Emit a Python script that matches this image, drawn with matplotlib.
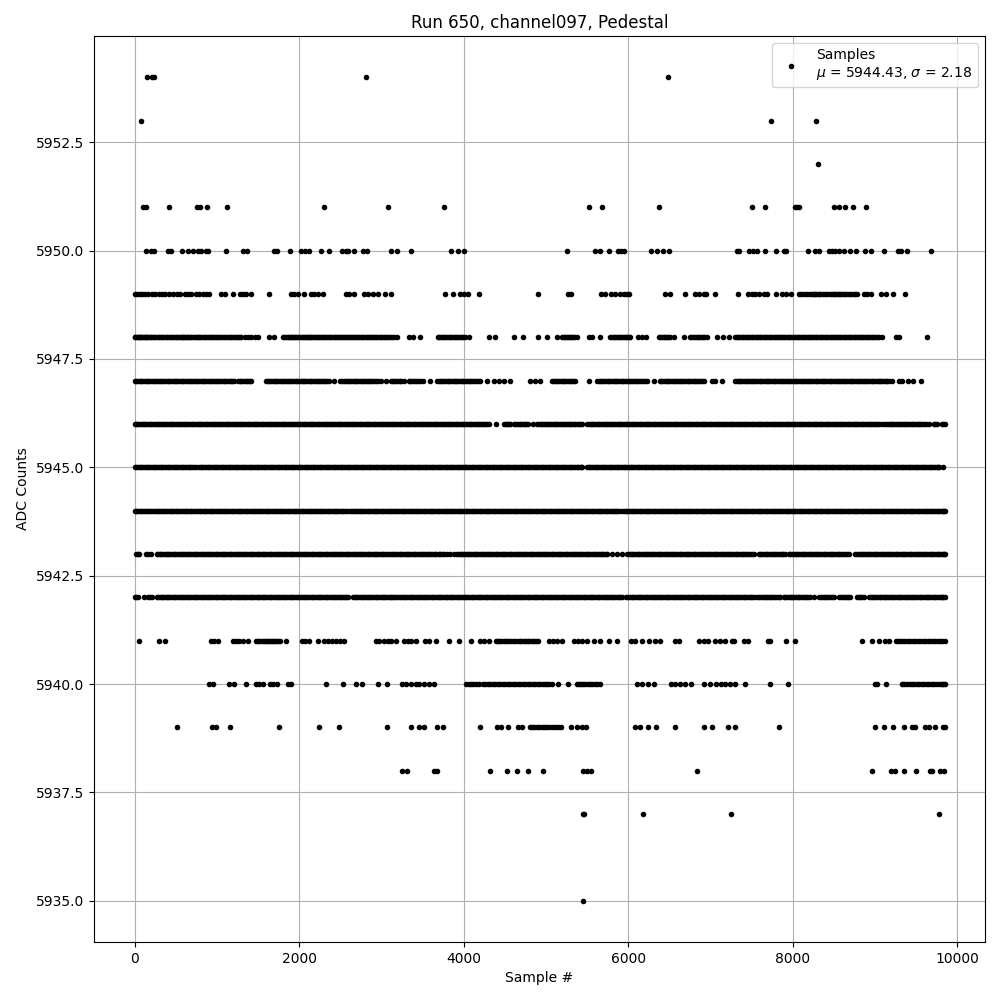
import numpy as np
import matplotlib
matplotlib.use("Agg")
import matplotlib.pyplot as plt

# sample numbers, one list per ADC level
samples_5935 = [5455]
samples_5937 = [5452, 5462, 6185, 7254, 9781]
samples_5938 = [3256, 3309, 3645, 3677, 4317, 4524, 4645, 4779, 4970, 5452, 5500, 5549, 6833, 8959,
                9198, 9246, 9348, 9493, 9663, 9692, 9785, 9841]
samples_5939 = [514, 936, 992, 1158, 1754, 2240, 2483, 3066, 3357, 3463, 3515, 3673, 3746, 4196, 4402,
                4455, 4536, 4657, 4710, 4811, 4835, 4860, 4890, 4921, 4950, 4973, 5000, 5034, 5075,
                5115, 5150, 5188, 5306, 5379, 5439, 5488, 6079, 6148, 6241, 6338, 6565, 6918, 7015,
                7209, 7294, 7829, 8995, 9105, 9214, 9348, 9449, 9489, 9611, 9659, 9733, 9822, 9845]
samples_5940 = [903, 952, 1154, 1207, 1357, 1478, 1519, 1559, 1648, 1681, 1733, 1863, 1903, 2329, 2531,
                2697, 2762, 2961, 3070, 3248, 3301, 3362, 3422, 3463, 3524, 3584, 3645, 4034, 4060,
                4090, 4120, 4151, 4190, 4232, 4262, 4293, 4325, 4354, 4385, 4414, 4445, 4475, 4505,
                4536, 4565, 4597, 4627, 4657, 4688, 4718, 4750, 4779, 4810, 4840, 4870, 4905, 4930,
                4961, 4985, 5014, 5040, 5075, 5148, 5265, 5379, 5405, 5431, 5455, 5480, 5510, 5541,
                5565, 5593, 5625, 5662, 6108, 6168, 6241, 6310, 6525, 6573, 6634, 6695, 6760, 6918,
                6991, 7064, 7132, 7181, 7242, 7302, 7416, 7720, 7938, 9005, 9020, 9129, 9327, 9355,
                9388, 9420, 9449, 9480, 9510, 9540, 9570, 9600, 9631, 9660, 9692, 9722, 9753, 9785,
                9813, 9830, 9845]
samples_5941 = [57, 296, 365, 931, 964, 1012, 1195, 1235, 1276, 1316, 1385, 1478, 1500, 1519, 1550, 1580,
                1600, 1620, 1640, 1660, 1680, 1701, 1720, 1741, 1770, 1839, 2033, 2078, 2126, 2232,
                2300, 2349, 2398, 2450, 2503, 2552, 2936, 2977, 3038, 3078, 3119, 3180, 3281, 3321,
                3362, 3422, 3532, 3584, 3665, 3819, 3941, 4086, 4204, 4252, 4313, 4394, 4415, 4435,
                4460, 4487, 4510, 4536, 4565, 4597, 4625, 4657, 4680, 4698, 4730, 4759, 4780, 4799,
                4830, 4860, 4880, 4900, 5034, 5083, 5136, 5196, 5338, 5391, 5439, 5500, 5581, 5654,
                5771, 5865, 6035, 6079, 6168, 6249, 6330, 6391, 6565, 6622, 6857, 6918, 6970, 7059,
                7120, 7173, 7262, 7290, 7404, 7456, 7695, 7720, 7918, 8027, 8837, 8963, 9044, 9117,
                9174, 9255, 9280, 9307, 9335, 9368, 9400, 9429, 9460, 9489, 9520, 9550, 9580, 9611,
                9640, 9672, 9700, 9733, 9765, 9793, 9820, 9845]
samples_5942 = [0, 40, 113, 162, 210, 271, 310, 350, 390, 435, 475, 520, 560, 600, 645, 685, 730, 775,
                815, 860, 900, 945, 985, 1030, 1070, 1115, 1155, 1200, 1240, 1285, 1325, 1370, 1410,
                1455, 1495, 1540, 1580, 1625, 1665, 1710, 1750, 1795, 1835, 1880, 1920, 1965, 2005,
                2050, 2090, 2135, 2175, 2220, 2260, 2305, 2345, 2390, 2430, 2475, 2515, 2560, 2592,
                2653, 2695, 2740, 2780, 2825, 2865, 2910, 2950, 2995, 3035, 3080, 3119, 3160, 3205,
                3250, 3290, 3335, 3375, 3420, 3460, 3505, 3545, 3590, 3630, 3675, 3715, 3760, 3800,
                3845, 3885, 3930, 3970, 4015, 4055, 4100, 4140, 4185, 4225, 4270, 4310, 4355, 4395,
                4440, 4480, 4525, 4565, 4610, 4650, 4695, 4735, 4780, 4820, 4865, 4905, 4950, 4990,
                5035, 5075, 5120, 5160, 5205, 5245, 5290, 5330, 5375, 5415, 5460, 5500, 5545, 5585,
                5630, 5670, 5715, 5755, 5800, 5840, 5885, 5925, 5978, 6020, 6065, 6105, 6150, 6190,
                6235, 6275, 6320, 6360, 6405, 6445, 6490, 6530, 6575, 6615, 6660, 6700, 6745, 6785,
                6830, 6870, 6915, 6955, 7000, 7040, 7085, 7125, 7170, 7210, 7255, 7295, 7340, 7380,
                7425, 7465, 7510, 7566, 7594, 7635, 7680, 7720, 7765, 7810, 7850, 7890, 7930, 7975,
                8015, 8060, 8100, 8145, 8185, 8214, 8254, 8323, 8365, 8410, 8455, 8497, 8566, 8610,
                8655, 8700, 8781, 8820, 8862, 8930, 8970, 9015, 9055, 9100, 9140, 9185, 9225, 9270,
                9310, 9355, 9395, 9440, 9480, 9525, 9565, 9610, 9650, 9695, 9735, 9780, 9820, 9845]
extra_5942 = [20, 185, 290, 330, 370, 412, 455, 498, 540, 580, 622, 665, 708, 752, 795, 838, 880, 922,
              965, 1008, 1050, 1092, 1135, 1178, 1220, 1262, 1305, 1348, 1390, 1432, 1475, 1518, 1560,
              1602, 1645, 1688, 1730, 1772, 1815, 1858, 1900, 1942, 1985, 2028, 2070, 2112, 2155, 2198,
              2240, 2282, 2325, 2368, 2410, 2452, 2495, 2538, 2575, 2675, 2718, 2760, 2802, 2845, 2888,
              2930, 2972, 3015, 3058, 3100, 3140, 3182, 3228, 3270, 3312, 3355, 3398, 3440, 3482, 3525,
              3568, 3610, 3652, 3695, 3738, 3780, 3822, 3865, 3908, 3950, 3992, 4035, 4078, 4120, 4162,
              4205, 4248, 4290, 4332, 4375, 4418, 4460, 4502, 4545, 4588, 4630, 4672, 4715, 4758, 4800,
              4842, 4885, 4928, 4970, 5012, 5055, 5098, 5140, 5182, 5225, 5268, 5310, 5352, 5395, 5438,
              5480, 5522, 5565, 5608, 5650, 5692, 5735, 5778, 5820, 5862, 5905, 6000, 6042, 6085, 6128,
              6170, 6212, 6255, 6298, 6340, 6382, 6425, 6468, 6510, 6552, 6595, 6638, 6680, 6722, 6765,
              6808, 6850, 6892, 6935, 6978, 7020, 7062, 7105, 7148, 7190, 7232, 7275, 7318, 7360, 7402,
              7445, 7488, 7530, 7615, 7658, 7700, 7742, 7788, 7830, 7910, 7952, 7995, 8038, 8080, 8122,
              8165, 8345, 8388, 8432, 8475, 8588, 8632, 8678, 8800, 8842, 8950, 8992, 9035, 9078, 9120,
              9162, 9205, 9248, 9290, 9332, 9375, 9418, 9460, 9502, 9545, 9588, 9630, 9672, 9715, 9758,
              9800, 9832]
samples_5943 = [20, 60, 140, 200, 275, 305, 350, 390, 435, 475, 520, 560, 605, 645, 690, 730, 775, 815,
                860, 900, 945, 985, 1030, 1070, 1115, 1155, 1200, 1240, 1285, 1325, 1370, 1410, 1455,
                1495, 1540, 1580, 1625, 1665, 1710, 1750, 1795, 1835, 1880, 1920, 1965, 2005, 2050,
                2090, 2135, 2175, 2220, 2260, 2305, 2345, 2390, 2430, 2475, 2515, 2560, 2600, 2645,
                2685, 2730, 2770, 2815, 2855, 2900, 2940, 2985, 3025, 3070, 3119, 3160, 3205, 3245,
                3290, 3330, 3375, 3415, 3460, 3500, 3545, 3585, 3630, 3670, 3718, 3760, 3800, 3840,
                3880, 3920, 3965, 4005, 4050, 4090, 4135, 4175, 4220, 4260, 4305, 4345, 4390, 4430,
                4475, 4515, 4560, 4600, 4645, 4685, 4730, 4770, 4815, 4855, 4900, 4940, 4985, 5025,
                5070, 5110, 5155, 5195, 5240, 5280, 5325, 5365, 5410, 5450, 5495, 5535, 5580, 5620,
                5665, 5705, 5743, 5804, 5865, 5925, 5986, 6030, 6070, 6115, 6155, 6200, 6240, 6285,
                6325, 6370, 6410, 6455, 6495, 6540, 6580, 6625, 6665, 6710, 6750, 6795, 6835, 6880,
                6920, 6965, 7005, 7050, 7090, 7135, 7175, 7220, 7260, 7305, 7345, 7390, 7430, 7480,
                7525, 7586, 7630, 7670, 7715, 7755, 7800, 7840, 7885, 7910, 7950, 7995, 8035, 8080,
                8120, 8165, 8205, 8250, 8290, 8335, 8375, 8420, 8460, 8505, 8545, 8590, 8630, 8680,
                8760, 8805, 8845, 8890, 8930, 8975, 9015, 9060, 9100, 9145, 9185, 9230, 9270, 9315,
                9355, 9400, 9440, 9485, 9525, 9570, 9610, 9655, 9695, 9740, 9780, 9825, 9845]
extra_5943 = [40, 170, 290, 328, 370, 412, 455, 498, 540, 582, 625, 668, 710, 752, 795, 838, 880, 922,
              965, 1008, 1050, 1092, 1135, 1178, 1220, 1262, 1305, 1348, 1390, 1432, 1475, 1518, 1560,
              1602, 1645, 1688, 1730, 1772, 1815, 1858, 1900, 1942, 1985, 2028, 2070, 2112, 2155, 2198,
              2240, 2282, 2325, 2368, 2410, 2452, 2495, 2538, 2580, 2622, 2665, 2708, 2750, 2792, 2835,
              2878, 2920, 2962, 3005, 3048, 3095, 3140, 3182, 3225, 3268, 3310, 3352, 3395, 3438, 3480,
              3522, 3565, 3608, 3650, 3695, 3740, 3940, 3985, 4028, 4070, 4112, 4155, 4198, 4240, 4282,
              4325, 4368, 4410, 4452, 4495, 4538, 4580, 4622, 4665, 4708, 4750, 4792, 4835, 4878, 4920,
              4962, 5005, 5048, 5090, 5132, 5175, 5218, 5260, 5302, 5345, 5388, 5430, 5472, 5515, 5558,
              5600, 5642, 5685, 5725, 6008, 6050, 6092, 6135, 6178, 6220, 6262, 6305, 6348, 6390, 6432,
              6475, 6518, 6560, 6602, 6645, 6688, 6730, 6772, 6815, 6858, 6900, 6942, 6985, 7028, 7070,
              7112, 7155, 7198, 7240, 7282, 7325, 7368, 7410, 7455, 7502, 7608, 7650, 7692, 7735, 7778,
              7820, 7865, 7972, 8015, 8058, 8100, 8142, 8185, 8228, 8270, 8312, 8355, 8398, 8440, 8482,
              8525, 8568, 8610, 8655, 8782, 8825, 8868, 8910, 8952, 8995, 9038, 9080, 9122, 9165, 9208,
              9250, 9292, 9335, 9378, 9420, 9462, 9505, 9548, 9590, 9632, 9675, 9718, 9760, 9802, 9835]
samples_5944 = [0, 35, 75, 120, 160, 205, 245, 290, 330, 375, 415, 460, 500, 545, 585, 630, 670, 715,
                755, 800, 840, 885, 925, 970, 1010, 1055, 1095, 1140, 1180, 1225, 1265, 1310, 1350,
                1395, 1435, 1480, 1520, 1565, 1605, 1650, 1690, 1735, 1775, 1820, 1860, 1905, 1945,
                1990, 2030, 2075, 2115, 2160, 2200, 2245, 2285, 2330, 2370, 2415, 2455, 2500, 2540,
                2585, 2620, 2665, 2705, 2750, 2790, 2835, 2875, 2920, 2960, 3005, 3045, 3090, 3130,
                3175, 3215, 3260, 3300, 3345, 3385, 3430, 3470, 3515, 3555, 3600, 3640, 3685, 3725,
                3770, 3810, 3855, 3895, 3940, 3980, 4025, 4065, 4110, 4150, 4195, 4235, 4280, 4320,
                4365, 4405, 4450, 4490, 4535, 4575, 4620, 4660, 4705, 4745, 4790, 4830, 4875, 4915,
                4960, 5000, 5045, 5085, 5130, 5170, 5215, 5255, 5300, 5340, 5385, 5425, 5470, 5510,
                5555, 5595, 5640, 5680, 5725, 5765, 5810, 5850, 5890, 5925, 5970, 6010, 6055, 6095,
                6140, 6180, 6225, 6265, 6310, 6350, 6395, 6435, 6480, 6520, 6565, 6605, 6650, 6690,
                6735, 6775, 6820, 6860, 6905, 6945, 6990, 7030, 7075, 7115, 7160, 7200, 7245, 7285,
                7330, 7370, 7415, 7455, 7500, 7540, 7585, 7625, 7670, 7710, 7755, 7795, 7840, 7880,
                7925, 7965, 8010, 8050, 8095, 8135, 8180, 8220, 8265, 8305, 8350, 8390, 8435, 8475,
                8520, 8560, 8605, 8645, 8690, 8730, 8775, 8815, 8860, 8900, 8945, 8985, 9030, 9070,
                9115, 9155, 9200, 9240, 9285, 9325, 9370, 9410, 9455, 9495, 9540, 9580, 9625, 9665,
                9710, 9750, 9795, 9825, 9845]
extra_5944 = [18, 55, 97, 140, 182, 225, 268, 310, 352, 395, 438, 480, 522, 565, 608, 650, 692, 735, 778,
              820, 862, 905, 948, 990, 1032, 1075, 1118, 1160, 1202, 1245, 1288, 1330, 1372, 1415, 1458,
              1500, 1542, 1585, 1628, 1670, 1712, 1755, 1798, 1840, 1882, 1925, 1968, 2010, 2052, 2095,
              2138, 2180, 2222, 2265, 2308, 2350, 2392, 2435, 2478, 2520, 2562, 2642, 2685, 2728, 2770,
              2812, 2855, 2898, 2940, 2982, 3025, 3068, 3110, 3152, 3195, 3238, 3280, 3322, 3365, 3408,
              3450, 3492, 3535, 3578, 3620, 3662, 3705, 3748, 3790, 3832, 3875, 3918, 3960, 4002, 4045,
              4088, 4130, 4172, 4215, 4258, 4300, 4342, 4385, 4428, 4470, 4512, 4555, 4598, 4640, 4682,
              4725, 4768, 4810, 4852, 4895, 4938, 4980, 5022, 5065, 5108, 5150, 5192, 5235, 5278, 5320,
              5362, 5405, 5448, 5490, 5532, 5575, 5618, 5660, 5702, 5745, 5788, 5830, 5870, 5948, 5990,
              6032, 6075, 6118, 6160, 6202, 6245, 6288, 6330, 6372, 6415, 6458, 6500, 6542, 6585, 6628,
              6670, 6712, 6755, 6798, 6840, 6882, 6925, 6968, 7010, 7052, 7095, 7138, 7180, 7222, 7265,
              7308, 7350, 7392, 7435, 7478, 7520, 7562, 7605, 7648, 7690, 7732, 7775, 7818, 7860, 7902,
              7945, 7988, 8030, 8072, 8115, 8158, 8200, 8242, 8285, 8328, 8370, 8412, 8455, 8498, 8540,
              8582, 8625, 8668, 8710, 8752, 8795, 8838, 8880, 8922, 8965, 9008, 9050, 9092, 9135, 9178,
              9220, 9262, 9305, 9348, 9390, 9432, 9475, 9518, 9560, 9602, 9645, 9688, 9730, 9772, 9810,
              9835]
samples_5945 = [0, 40, 85, 125, 170, 210, 255, 295, 340, 380, 425, 465, 510, 550, 595, 635, 680, 720,
                750, 785, 825, 870, 910, 955, 995, 1040, 1080, 1125, 1165, 1210, 1250, 1295, 1335,
                1380, 1420, 1465, 1505, 1550, 1590, 1635, 1675, 1720, 1760, 1805, 1845, 1890, 1930,
                1975, 2015, 2060, 2100, 2145, 2185, 2230, 2270, 2315, 2355, 2400, 2440, 2485, 2525,
                2570, 2610, 2655, 2695, 2740, 2780, 2825, 2865, 2910, 2950, 2995, 3035, 3080, 3120,
                3165, 3205, 3250, 3290, 3335, 3375, 3420, 3460, 3505, 3545, 3590, 3630, 3675, 3715,
                3760, 3800, 3845, 3885, 3930, 3970, 4015, 4055, 4100, 4140, 4185, 4225, 4270, 4310,
                4355, 4395, 4440, 4480, 4525, 4565, 4610, 4650, 4695, 4735, 4780, 4820, 4865, 4905,
                4950, 4990, 5035, 5075, 5120, 5160, 5205, 5245, 5290, 5330, 5375, 5410, 5439, 5500,
                5540, 5585, 5625, 5670, 5710, 5755, 5795, 5840, 5880, 5925, 5965, 6010, 6050, 6095,
                6135, 6180, 6220, 6265, 6305, 6350, 6390, 6435, 6475, 6520, 6560, 6605, 6645, 6690,
                6730, 6775, 6815, 6860, 6900, 6945, 6985, 7030, 7070, 7115, 7155, 7200, 7240, 7285,
                7325, 7370, 7410, 7455, 7495, 7540, 7580, 7625, 7665, 7710, 7750, 7795, 7835, 7880,
                7920, 7965, 8005, 8050, 8090, 8135, 8175, 8220, 8260, 8305, 8345, 8390, 8430, 8475,
                8515, 8560, 8600, 8645, 8685, 8730, 8770, 8815, 8855, 8900, 8940, 8985, 9025, 9070,
                9110, 9155, 9195, 9240, 9280, 9325, 9365, 9410, 9450, 9495, 9535, 9580, 9620, 9665,
                9705, 9750, 9780, 9821]
extra_5945 = [20, 62, 105, 148, 190, 232, 275, 318, 360, 402, 445, 488, 530, 572, 615, 658, 700, 805, 848,
              890, 932, 975, 1018, 1060, 1102, 1145, 1188, 1230, 1272, 1315, 1358, 1400, 1442, 1485, 1528,
              1570, 1612, 1655, 1698, 1740, 1782, 1825, 1868, 1910, 1952, 1995, 2038, 2080, 2122, 2165,
              2208, 2250, 2292, 2335, 2378, 2420, 2462, 2505, 2548, 2590, 2632, 2675, 2718, 2760, 2802,
              2845, 2888, 2930, 2972, 3015, 3058, 3100, 3142, 3185, 3228, 3270, 3312, 3355, 3398, 3440,
              3482, 3525, 3568, 3610, 3652, 3695, 3738, 3780, 3822, 3865, 3908, 3950, 3992, 4035, 4078,
              4120, 4162, 4205, 4248, 4290, 4332, 4375, 4418, 4460, 4502, 4545, 4588, 4630, 4672, 4715,
              4758, 4800, 4842, 4885, 4928, 4970, 5012, 5055, 5098, 5140, 5182, 5225, 5268, 5310, 5352,
              5392, 5425, 5520, 5562, 5605, 5648, 5690, 5732, 5775, 5818, 5860, 5902, 5945, 5988, 6030,
              6072, 6115, 6158, 6200, 6242, 6285, 6328, 6370, 6412, 6455, 6498, 6540, 6582, 6625, 6668,
              6710, 6752, 6795, 6838, 6880, 6922, 6965, 7008, 7050, 7092, 7135, 7178, 7220, 7262, 7305,
              7348, 7390, 7432, 7475, 7518, 7560, 7602, 7645, 7688, 7730, 7772, 7815, 7858, 7900, 7942,
              7985, 8028, 8070, 8112, 8155, 8198, 8240, 8282, 8325, 8368, 8410, 8452, 8495, 8538, 8580,
              8622, 8665, 8708, 8750, 8792, 8835, 8878, 8920, 8962, 9005, 9048, 9090, 9132, 9175, 9218,
              9260, 9302, 9345, 9388, 9430, 9472, 9515, 9558, 9600, 9642, 9685, 9728, 9765]
samples_5946 = [0, 35, 80, 120, 165, 205, 250, 290, 335, 375, 420, 460, 505, 545, 590, 630, 675, 715,
                760, 800, 845, 885, 930, 970, 1015, 1055, 1100, 1140, 1185, 1225, 1270, 1310, 1355,
                1395, 1440, 1480, 1525, 1565, 1610, 1650, 1695, 1735, 1780, 1820, 1865, 1905, 1950,
                1990, 2035, 2075, 2120, 2160, 2205, 2245, 2290, 2330, 2375, 2415, 2460, 2500, 2545,
                2585, 2630, 2670, 2715, 2755, 2800, 2840, 2885, 2925, 2970, 3010, 3055, 3095, 3140,
                3180, 3225, 3265, 3310, 3350, 3395, 3435, 3480, 3520, 3565, 3605, 3650, 3690, 3735,
                3775, 3820, 3860, 3905, 3945, 3990, 4030, 4075, 4115, 4160, 4200, 4245, 4285, 4305,
                4390, 4488, 4530, 4570, 4617, 4660, 4700, 4745, 4779, 4844, 4892, 4935, 4975, 5020,
                5060, 5105, 5145, 5190, 5230, 5275, 5315, 5360, 5400, 5439, 5500, 5545, 5585, 5630,
                5670, 5715, 5755, 5800, 5840, 5885, 5925, 5970, 6010, 6055, 6095, 6140, 6180, 6225,
                6265, 6310, 6350, 6395, 6435, 6480, 6520, 6565, 6605, 6650, 6690, 6735, 6775, 6820,
                6860, 6905, 6945, 6990, 7030, 7075, 7115, 7160, 7200, 7245, 7285, 7330, 7370, 7415,
                7455, 7500, 7540, 7585, 7625, 7670, 7710, 7755, 7795, 7840, 7880, 7925, 7965, 8010,
                8050, 8095, 8135, 8180, 8220, 8265, 8305, 8350, 8390, 8435, 8475, 8520, 8560, 8605,
                8645, 8690, 8730, 8775, 8815, 8860, 8900, 8945, 8985, 9030, 9085, 9125, 9170, 9210,
                9255, 9295, 9340, 9380, 9425, 9465, 9510, 9550, 9595, 9651, 9712, 9753, 9813, 9845]
extra_5946 = [18, 58, 100, 142, 185, 228, 270, 312, 355, 398, 440, 482, 525, 568, 610, 652, 695, 738, 780,
              822, 865, 908, 950, 992, 1035, 1078, 1120, 1162, 1205, 1248, 1290, 1332, 1375, 1418, 1460,
              1502, 1545, 1588, 1630, 1672, 1715, 1758, 1800, 1842, 1885, 1928, 1970, 2012, 2055, 2098,
              2140, 2182, 2225, 2268, 2310, 2352, 2395, 2438, 2480, 2522, 2565, 2608, 2650, 2692, 2735,
              2778, 2820, 2862, 2905, 2948, 2990, 3032, 3075, 3118, 3160, 3202, 3245, 3288, 3330, 3372,
              3415, 3458, 3500, 3542, 3585, 3628, 3670, 3712, 3755, 3798, 3840, 3882, 3925, 3968, 4010,
              4052, 4095, 4138, 4180, 4222, 4265, 4510, 4550, 4640, 4680, 4722, 4762, 4915, 4955, 4998,
              5040, 5082, 5125, 5168, 5210, 5252, 5295, 5338, 5380, 5420, 5522, 5565, 5608, 5650, 5692,
              5735, 5778, 5820, 5862, 5905, 5948, 5990, 6032, 6075, 6118, 6160, 6202, 6245, 6288, 6330,
              6372, 6415, 6458, 6500, 6542, 6585, 6628, 6670, 6712, 6755, 6798, 6840, 6882, 6925, 6968,
              7010, 7052, 7095, 7138, 7180, 7222, 7265, 7308, 7350, 7392, 7435, 7478, 7520, 7562, 7605,
              7648, 7690, 7732, 7775, 7818, 7860, 7902, 7945, 7988, 8030, 8072, 8115, 8158, 8200, 8242,
              8285, 8328, 8370, 8412, 8455, 8498, 8540, 8582, 8625, 8668, 8710, 8752, 8795, 8838, 8880,
              8922, 8965, 9008, 9050, 9148, 9190, 9232, 9275, 9318, 9360, 9402, 9445, 9488, 9530, 9572,
              9620, 9733, 9830]
samples_5947 = [0, 40, 85, 125, 170, 210, 255, 295, 340, 380, 425, 465, 510, 550, 595, 635, 680, 720,
                765, 805, 850, 890, 935, 975, 1020, 1060, 1105, 1145, 1190, 1215, 1255, 1300, 1340,
                1385, 1418, 1600, 1640, 1685, 1725, 1770, 1810, 1855, 1895, 1940, 1980, 2025, 2065,
                2110, 2150, 2195, 2235, 2280, 2320, 2365, 2430, 2503, 2545, 2590, 2630, 2675, 2715,
                2760, 2800, 2845, 2885, 2930, 2997, 3058, 3119, 3160, 3205, 3245, 3272, 3333, 3375,
                3420, 3470, 3510, 3597, 3678, 3720, 3765, 3805, 3850, 3890, 3935, 3975, 4020, 4060,
                4105, 4145, 4204, 4285, 4366, 4427, 4488, 4560, 4812, 4872, 4933, 5075, 5120, 5160,
                5205, 5245, 5290, 5330, 5358, 5520, 5621, 5665, 5705, 5750, 5790, 5835, 5875, 5920,
                5960, 6005, 6045, 6090, 6130, 6175, 6229, 6310, 6383, 6425, 6470, 6510, 6555, 6595,
                6640, 6680, 6725, 6765, 6810, 6850, 6895, 6918, 7019, 7060, 7140, 7302, 7345, 7385,
                7430, 7470, 7515, 7555, 7600, 7640, 7685, 7725, 7770, 7810, 7855, 7895, 7940, 7980,
                8025, 8065, 8110, 8150, 8195, 8235, 8280, 8320, 8365, 8405, 8450, 8490, 8535, 8575,
                8620, 8660, 8705, 8745, 8790, 8830, 8875, 8915, 8960, 9000, 9045, 9085, 9130, 9170,
                9206, 9287, 9327, 9400, 9457, 9562]
extra_5947 = [20, 62, 105, 148, 190, 232, 275, 318, 360, 402, 445, 488, 530, 572, 615, 658, 700, 742, 785,
              828, 870, 912, 955, 998, 1040, 1082, 1125, 1168, 1278, 1320, 1362, 1400, 1620, 1662, 1705,
              1748, 1790, 1832, 1875, 1918, 1960, 2002, 2045, 2088, 2130, 2172, 2215, 2258, 2300, 2342,
              2522, 2568, 2610, 2652, 2695, 2738, 2780, 2822, 2865, 2908, 2955, 3140, 3182, 3225, 3352,
              3398, 3445, 3700, 3742, 3785, 3828, 3870, 3912, 3955, 3998, 4040, 4082, 4125, 4175, 5098,
              5140, 5182, 5225, 5268, 5310, 5642, 5685, 5728, 5770, 5812, 5855, 5898, 5940, 5982, 6025,
              6068, 6110, 6152, 6200, 6405, 6448, 6490, 6532, 6575, 6618, 6660, 6702, 6745, 6788, 6830,
              6872, 7322, 7365, 7408, 7450, 7492, 7535, 7578, 7620, 7662, 7705, 7748, 7790, 7832, 7875,
              7918, 7960, 8002, 8045, 8088, 8130, 8172, 8215, 8258, 8300, 8342, 8385, 8428, 8470, 8512,
              8555, 8598, 8640, 8682, 8725, 8768, 8810, 8852, 8895, 8938, 8980, 9022, 9065, 9108, 9150]
samples_5948 = [0, 25, 50, 80, 110, 140, 170, 205, 240, 280, 320, 360, 400, 440, 480, 520, 560, 590,
                620, 650, 690, 730, 770, 800, 840, 880, 920, 960, 1000, 1040, 1090, 1134, 1175, 1220,
                1260, 1300, 1340, 1380, 1420, 1460, 1498, 1632, 1701, 1802, 1840, 1880, 1915, 1950,
                1985, 2025, 2060, 2100, 2130, 2170, 2205, 2245, 2280, 2320, 2360, 2400, 2440, 2475,
                2510, 2550, 2590, 2630, 2665, 2700, 2740, 2780, 2820, 2860, 2900, 2940, 2985, 3020,
                3060, 3100, 3150, 3195, 3341, 3382, 3471, 3686, 3725, 3765, 3810, 3850, 3890, 3930,
                3975, 4020, 4070, 4305, 4378, 4609, 4718, 4900, 5014, 5136, 5196, 5235, 5270, 5310,
                5345, 5379, 5520, 5561, 5662, 5784, 5825, 5865, 5905, 5945, 5990, 6027, 6120, 6168,
                6217, 6371, 6410, 6450, 6490, 6513, 6553, 6675, 6756, 6800, 6845, 6885, 6925, 6958,
                7080, 7149, 7221, 7302, 7340, 7380, 7420, 7460, 7500, 7540, 7580, 7620, 7660, 7700,
                7740, 7780, 7820, 7860, 7900, 7940, 7980, 8020, 8060, 8100, 8140, 8180, 8220, 8260,
                8300, 8340, 8380, 8420, 8460, 8500, 8540, 8580, 8620, 8660, 8700, 8740, 8780, 8820,
                8860, 8900, 8940, 8980, 9020, 9084, 9254, 9287, 9631]
extra_5948 = [12, 38, 65, 95, 125, 155, 188, 222, 260, 300, 340, 380, 420, 460, 500, 540, 575, 605, 635,
              670, 710, 750, 785, 820, 860, 900, 940, 980, 1020, 1065, 1112, 1155, 1198, 1240, 1280, 1820,
              1860, 1898, 1932, 1968, 2005, 2042, 2080, 2115, 2150, 2188, 2225, 2262, 2300, 2340, 2380,
              2420, 2458, 2492, 2530, 2570, 2610, 2648, 2682, 2720, 2760, 2800, 2840, 2880, 2920, 2962,
              3002, 3040, 3080, 3125, 3705, 3745, 3788, 3830, 3870, 3910, 3952, 3998, 5215, 5252, 5290,
              5328, 5805, 5845, 5885, 5925, 5968, 6008, 6390, 6430, 6470, 6778, 6822, 6865, 6905, 7320,
              7360, 7400, 7440, 7480, 7520, 7560, 7600, 7640, 7680, 7720, 7760, 7800, 7840, 7880, 7920,
              7960, 8000, 8040, 8080, 8120, 8160, 8200, 8240, 8280, 8320, 8360, 8400, 8440, 8480, 8520,
              8560, 8600, 8640, 8680, 8720, 8760, 8800, 8840, 8880, 8920, 8960, 9000, 9050]
samples_5949 = [0, 32, 65, 97, 130, 170, 210, 251, 292, 332, 373, 425, 466, 518, 547, 608, 656, 688,
                749, 790, 830, 871, 903, 1053, 1101, 1195, 1288, 1324, 1357, 1418, 1632, 1903, 1944,
                1993, 2066, 2147, 2187, 2236, 2292, 2572, 2612, 2665, 2786, 2835, 2896, 2957, 3042,
                3119, 3775, 3868, 3953, 4001, 4050, 4184, 4905, 5265, 5306, 5674, 5723, 5796, 5845,
                5905, 5946, 5986, 6015, 6452, 6505, 6695, 6816, 6857, 6918, 6950, 7051, 7335, 7452,
                7505, 7545, 7594, 7647, 7687, 7800, 7869, 7918, 7983, 8080, 8100, 8133, 8170, 8214,
                8235, 8254, 8275, 8295, 8315, 8335, 8365, 8396, 8420, 8457, 8475, 8497, 8520, 8538,
                8560, 8578, 8600, 8619, 8650, 8680, 8710, 8740, 8760, 8781, 8862, 8902, 8955, 9068,
                9137, 9214, 9360]
samples_5950 = [142, 203, 243, 405, 446, 575, 652, 709, 769, 810, 863, 891, 1110, 1316, 1369, 1690, 1730,
                1887, 2021, 2074, 2118, 2268, 2361, 2519, 2572, 2600, 2665, 2774, 2828, 3114, 3187,
                3357, 3843, 3937, 4001, 5253, 5601, 5654, 5763, 5873, 5917, 5950, 6273, 6346, 6427,
                6492, 7320, 7345, 7472, 7513, 7566, 7659, 7800, 7890, 7918, 8181, 8266, 8323, 8437,
                8477, 8518, 8566, 8618, 8700, 8769, 8882, 8951, 9105, 9279, 9320, 9389, 9676]
samples_5951 = [100, 135, 417, 762, 802, 887, 1122, 2300, 3078, 3758, 5520, 5678, 6371, 7501, 7659, 8031,
                8056, 8080, 8505, 8566, 8630, 8728, 8886]
samples_5952 = [8310]
samples_5953 = [73, 7740, 8287]
samples_5954 = [146, 207, 243, 2810, 6490]

adc_levels = [5935, 5937, 5938, 5939, 5940, 5941, 5942, 5943, 5944, 5945, 5946, 5947, 5948, 5949,
              5950, 5951, 5952, 5953, 5954]
level_samples = [samples_5935, samples_5937, samples_5938, samples_5939, samples_5940, samples_5941,
                 samples_5942 + extra_5942, samples_5943 + extra_5943, samples_5944 + extra_5944,
                 samples_5945 + extra_5945, samples_5946 + extra_5946, samples_5947 + extra_5947,
                 samples_5948 + extra_5948, samples_5949, samples_5950, samples_5951, samples_5952,
                 samples_5953, samples_5954]

xs = np.concatenate(level_samples)
ys = np.concatenate([[lvl] * len(s) for lvl, s in zip(adc_levels, level_samples)])

fig, ax = plt.subplots(figsize=(10, 10))
ax.plot(xs, ys, ".", color="black", label="Samples\n$\\mu$ = 5944.43, $\\sigma$ = 2.18")
ax.set_title("Run 650, channel097, Pedestal")
ax.set_xlabel("Sample #")
ax.set_ylabel("ADC Counts")
ax.grid(True)
ax.legend(loc="upper right")
fig.subplots_adjust(left=0.094, right=0.985, top=0.964, bottom=0.058)
fig.savefig("out.png", dpi=100)
